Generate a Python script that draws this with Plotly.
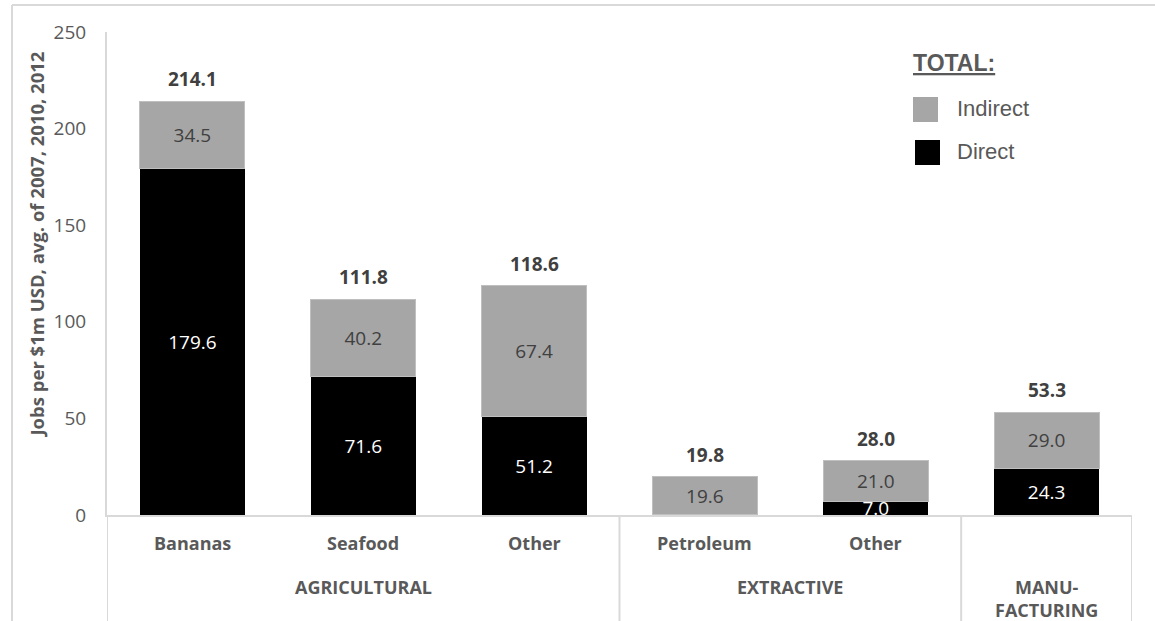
import plotly.graph_objects as go

# Export categories, grouped by major sector
products = ["Bananas", "Seafood", "Other", "Petroleum", "Other", "Manufacturing"]
sectors = ["AGRICULTURAL", "EXTRACTIVE", "MANU-<br>FACTURING"]
sector_span = [(0, 2), (3, 4), (5, 5)]

# Jobs per $1m USD of exports (avg. of 2007, 2010, 2012)
direct = [179.6, 71.6, 51.2, 0.2, 7.0, 24.3]
indirect = [34.5, 40.2, 67.4, 19.6, 21.0, 29.0]
totals = [214.1, 111.8, 118.6, 19.8, 28.0, 53.3]
direct_text = ["179.6", "71.6", "51.2", "", "7.0", "24.3"]
indirect_text = ["34.5", "40.2", "67.4", "19.6", "21.0", "29.0"]
y_ticks = [0, 50, 100, 150, 200, 250]

FONT = "Open Sans"
GREY_TXT = "#595959"
LINE = "#d9d9d9"
xs = list(range(len(products)))

W, H = 1155, 621
L, R, T, B = 107, 23, 32, 106
pw, ph = W - L - R, H - T - B


def px_to_paper(px, py):
    return (px - L) / pw, 1 - (py - T) / ph


fig = go.Figure()
fig.add_trace(go.Bar(
    x=xs, y=direct, name="Direct", marker=dict(color="#000000", line=dict(width=0)),
    text=direct_text, textposition="inside", insidetextanchor="middle",
    constraintext="none", cliponaxis=True,
    textfont=dict(family=FONT, size=19, color="white"), width=0.615,
))
fig.add_trace(go.Bar(
    x=xs, y=indirect, name="Indirect",
    marker=dict(color="#a6a6a6", line=dict(color="#bfbfbf", width=1)),
    text=indirect_text, textposition="inside", insidetextanchor="middle",
    constraintext="none",
    textfont=dict(family=FONT, size=19, color="#404040"), width=0.615,
))

annotations = []
# totals above each stack
for i, t in enumerate(totals):
    annotations.append(dict(
        x=i, y=t, xref="x", yref="y", text=f"<b>{t:.1f}</b>", showarrow=False,
        yanchor="bottom", yshift=7, font=dict(family=FONT, size=19, color="#404040"),
    ))
# product labels under the baseline
for i, p in enumerate(products[:5]):
    annotations.append(dict(
        x=i, y=0, xref="x", yref="paper", text=f"<b>{p}</b>", showarrow=False,
        yanchor="middle", yshift=-(543 - 515),
        font=dict(family=FONT, size=18, color=GREY_TXT),
    ))
# sector labels
for s, (a, b) in zip(sectors, sector_span):
    annotations.append(dict(
        x=(a + b) / 2, y=0, xref="x", yref="paper", text=f"<b>{s}</b>", showarrow=False,
        yanchor="top", yshift=-58, font=dict(family=FONT, size=18, color=GREY_TXT),
    ))

# y-axis title
annotations.append(dict(
    x=0, y=0.56, xref="paper", yref="paper", xanchor="center", yanchor="middle",
    xshift=-70, text="<b>Jobs per $1m USD, avg. of 2007, 2010, 2012</b>", textangle=-90,
    showarrow=False, font=dict(family=FONT, size=18.5, color=GREY_TXT),
))

# legend drawn as swatches + labels
for (px, py, txt, size) in [(911, 63, "<b><u>TOTAL:</u></b>", 23),
                            (955, 108, "Indirect", 22),
                            (955, 151, "Direct", 22)]:
    ax, ay = px_to_paper(px, py)
    annotations.append(dict(
        x=ax, y=ay, xref="paper", yref="paper", text=txt, showarrow=False,
        xanchor="left", yanchor="middle",
        font=dict(family="Liberation Sans", size=size, color=GREY_TXT),
    ))

shapes = []
# legend swatches
for (x0, y0, col) in [(913, 97, "#a6a6a6"), (915, 140, "#000000")]:
    a0, b0 = px_to_paper(x0, y0)
    a1, b1 = px_to_paper(x0 + 25, y0 + 25)
    shapes.append(dict(type="rect", xref="paper", yref="paper", x0=a0, x1=a1, y0=b1, y1=b0,
                       fillcolor=col, line=dict(width=0)))
# sector separators under the baseline
_, ybot = px_to_paper(0, H + 5)
for xv in [-0.5, 2.5, 4.5, 5.5]:
    shapes.append(dict(type="line", xref="x", yref="paper", x0=xv, x1=xv, y0=0, y1=ybot,
                       line=dict(color=LINE, width=2)))
# outer frame
fx, fy = px_to_paper(12, 5)
fx2, _ = px_to_paper(W + 5, 5)
shapes.append(dict(type="line", xref="paper", yref="paper", x0=fx, x1=fx2, y0=fy, y1=fy,
                   line=dict(color=LINE, width=2)))
shapes.append(dict(type="line", xref="paper", yref="paper", x0=fx, x1=fx, y0=fy, y1=ybot,
                   line=dict(color=LINE, width=2)))

fig.update_layout(
    barmode="stack",
    width=W, height=H,
    margin=dict(l=L, r=R, t=T, b=B, pad=0),
    paper_bgcolor="white", plot_bgcolor="white",
    showlegend=False,
    font=dict(family=FONT, color=GREY_TXT),
    xaxis=dict(range=[-0.5, 5.5], showticklabels=False, ticks="", showgrid=False,
               zeroline=False, showline=True, linecolor=LINE, linewidth=2, fixedrange=True),
    yaxis=dict(range=[0, 250], tickvals=y_ticks, showgrid=False, zeroline=False,
               showline=True, linecolor=LINE, linewidth=2, ticks="",
               ticklabelstandoff=15, tickfont=dict(family=FONT, size=19, color=GREY_TXT)),
    annotations=annotations,
    shapes=shapes,
)

fig.write_html("out.html")
